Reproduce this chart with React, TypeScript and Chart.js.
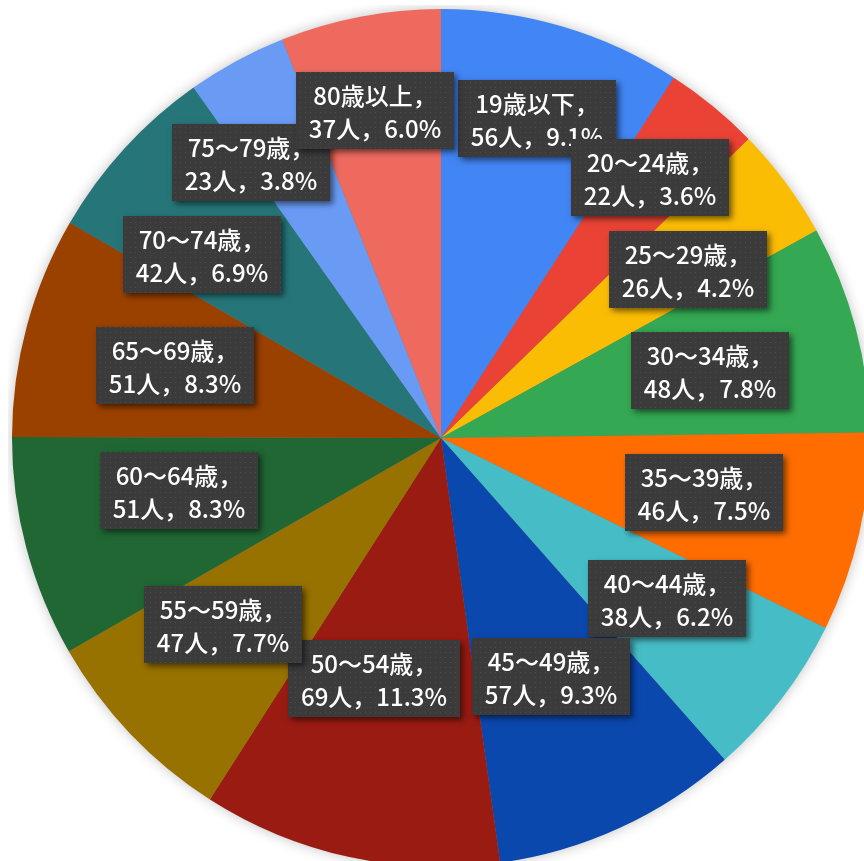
import React, { useEffect, useRef } from "react";
import { Chart, registerables } from "chart.js";

Chart.register(...registerables);

const categories = [
  "19歳以下", "20～24歳", "25～29歳", "30～34歳", "35～39歳", "40～44歳", "45～49歳",
  "50～54歳", "55～59歳", "60～64歳", "65～69歳", "70～74歳", "75～79歳", "80歳以上",
];
const counts = [56, 22, 26, 48, 46, 38, 57, 69, 47, 51, 51, 42, 23, 37];
const sliceColors = [
  "#4285F4", "#EA4335", "#FBBC04", "#34A853", "#FF6D01", "#46BDC6", "#0B48AE",
  "#9A1B12", "#977200", "#206733", "#9B4100", "#267679", "#699BF5", "#EE6A5F",
];
// label placement: fraction of pie radius, and angular nudge (deg) from slice middle
const labelRadius = [0.778, 0.779, 0.698, 0.646, 0.626, 0.645, 0.613, 0.581, 0.668, 0.623, 0.643, 0.702, 0.779, 0.778];
const labelAngleShift = [0.3, -0.6, 2.2, 0.8, -1.0, -2.1, 0, 3.3, 3.1, 3.6, 0.2, -5.0, -6.1, -0.5];

const FONT = '500 24px "Noto Sans CJK JP", "Noto Sans", sans-serif';

function makeDotPattern(ctx: CanvasRenderingContext2D) {
  const c = document.createElement("canvas");
  c.width = 5;
  c.height = 5;
  const g = c.getContext("2d")!;
  g.fillStyle = "rgba(255,255,255,0.09)";
  g.fillRect(2, 2, 1, 1);
  return ctx.createPattern(c, "repeat");
}

const pieDecor = {
  id: "pieDecor",
  beforeDatasetsDraw(chart: any) {
    const meta = chart.getDatasetMeta(0);
    const a = meta.data[0];
    if (!a) return;
    const { x, y, outerRadius } = a.getProps(["x", "y", "outerRadius"], true);
    const ctx = chart.ctx as CanvasRenderingContext2D;
    ctx.save();
    ctx.shadowColor = "rgba(0,0,0,0.28)";
    ctx.shadowBlur = 14;
    ctx.fillStyle = "#777";
    ctx.beginPath();
    ctx.arc(x, y, outerRadius - 1, 0, Math.PI * 2);
    ctx.fill();
    ctx.restore();
  },
  afterDatasetsDraw(chart: any) {
    const meta = chart.getDatasetMeta(0);
    const ctx = chart.ctx as CanvasRenderingContext2D;
    const total = counts.reduce((s, v) => s + v, 0);
    const pattern = makeDotPattern(ctx);
    ctx.save();
    ctx.font = FONT;
    meta.data.forEach((arc: any, i: number) => {
      const p = arc.getProps(["x", "y", "startAngle", "endAngle", "outerRadius"], true);
      const mid = (p.startAngle + p.endAngle) / 2 + (labelAngleShift[i] * Math.PI) / 180;
      const r = labelRadius[i] * p.outerRadius;
      const cx = p.x + Math.cos(mid) * r;
      const cy = p.y + Math.sin(mid) * r;
      const line1 = categories[i] + "，";
      const line2 = counts[i] + "人，" + ((counts[i] / total) * 100).toFixed(1) + "%";
      const w1 = ctx.measureText(line1).width;
      const w2 = ctx.measureText(line2).width;
      const bw = Math.round(Math.max(w1, w2) + 26);
      const bh = 77;
      const bx = Math.round(cx - bw / 2);
      const by = Math.round(cy - bh / 2);
      ctx.save();
      ctx.shadowColor = "rgba(0,0,0,0.55)";
      ctx.shadowBlur = 6;
      ctx.shadowOffsetX = 3;
      ctx.shadowOffsetY = 3;
      ctx.fillStyle = "#3b3b3b";
      ctx.fillRect(bx, by, bw, bh);
      ctx.restore();
      if (pattern) {
        ctx.fillStyle = pattern;
        ctx.fillRect(bx, by, bw, bh);
      }
      ctx.fillStyle = "#ffffff";
      ctx.textAlign = "center";
      ctx.textBaseline = "middle";
      ctx.fillText(line1, bx + bw / 2, by + 24);
      ctx.fillText(line2, bx + bw / 2, by + 57);
    });
    ctx.restore();
  },
};

export default function App() {
  const ref = useRef<HTMLCanvasElement>(null);
  useEffect(() => {
    if (!ref.current) return;
    const chart = new Chart(ref.current, {
      type: "pie",
      data: {
        labels: categories,
        datasets: [
          {
            data: counts,
            backgroundColor: sliceColors,
            borderWidth: 0,
            hoverOffset: 0,
            offset: 0,
          },
        ],
      },
      options: {
        responsive: false,
        maintainAspectRatio: false,
        animation: false,
        devicePixelRatio: 1,
        events: [],
        layout: { padding: 4 },
        plugins: {
          legend: { display: false },
          tooltip: { enabled: false },
          title: { display: false },
        },
      },
      plugins: [pieDecor],
    });
    return () => chart.destroy();
  }, []);
  return (
    <div
      style={{
        position: "fixed",
        left: 0,
        top: 0,
        width: 864,
        height: 861,
        overflow: "hidden",
        background: "#ffffff",
      }}
    >
      <canvas
        ref={ref}
        width={866}
        height={866}
        style={{ position: "absolute", left: 8, top: 5, width: 866, height: 866 }}
      />
    </div>
  );
}
